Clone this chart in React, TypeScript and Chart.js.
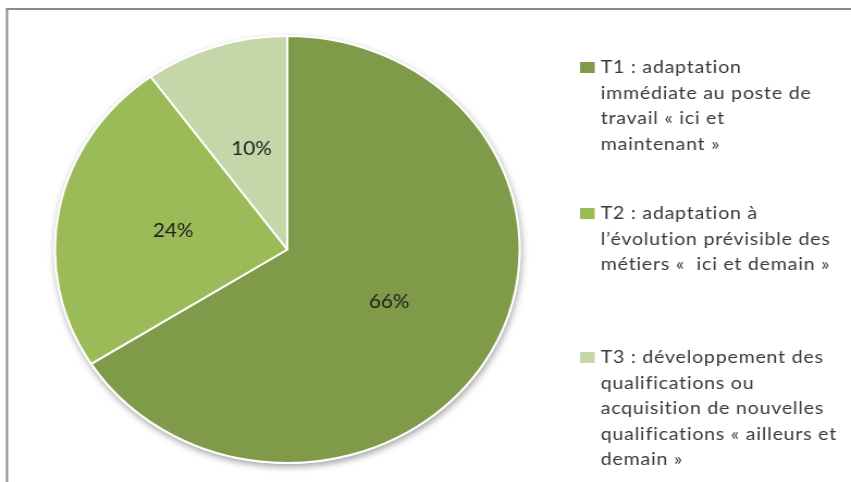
import React, { useEffect, useRef } from "react";
import { Chart, registerables } from "chart.js";

Chart.register(...registerables);

// ---- data ----
const CATEGORIES: string[][] = [
  ["T1 : adaptation", "immédiate au poste de", "travail « ici et", "maintenant »"],
  ["T2 : adaptation à", "l’évolution prévisible des", "métiers «  ici et demain »"],
  ["T3 : développement des", "qualifications ou", "acquisition de nouvelles", "qualifications « ailleurs et", "demain »"],
];
const VALUES: number[] = [66, 24, 10];
const COLORS: string[] = ["#7F9A48", "#9BBB59", "#C5D6A8"];

// ---- layout ----
const OUT_W = 851;
const OUT_H = 482;
const STRETCH = 1.088; // the reference is stretched horizontally
const CANVAS_W = Math.round(OUT_W / STRETCH);
const CANVAS_H = OUT_H;
const LEGEND_BOX_X = 533;
const LEGEND_TEXT_X = 552;
const LEGEND_BASELINES = [73, 219, 363];
const LEGEND_LINE_H = 25.5;
const FONT = "Lato, 'Open Sans', sans-serif";

const framePlugin = {
  id: "frame",
  beforeDraw(chart: any) {
    const ctx = chart.ctx;
    ctx.save();
    ctx.fillStyle = "#ffffff";
    ctx.fillRect(0, 0, chart.width, chart.height);
    ctx.strokeStyle = "#8a8a8a";
    ctx.lineWidth = 2;
    ctx.strokeRect(6.4, 9, chart.width + 20, chart.height + 20);
    ctx.restore();
  },
};

const shadowPlugin = {
  id: "pieShadow",
  beforeDatasetsDraw(chart: any) {
    const arc = chart.getDatasetMeta(0).data[0];
    if (!arc) return;
    const { x, y, outerRadius } = arc.getProps(["x", "y", "outerRadius"], true);
    const ctx = chart.ctx;
    ctx.save();
    ctx.shadowColor = "rgba(0,0,0,0.35)";
    ctx.shadowBlur = 6;
    ctx.shadowOffsetX = 1;
    ctx.shadowOffsetY = 3;
    ctx.fillStyle = "#ffffff";
    ctx.beginPath();
    ctx.arc(x, y, outerRadius + 1, 0, Math.PI * 2);
    ctx.fill();
    ctx.restore();
  },
};

const valueLabelPlugin = {
  id: "valueLabels",
  afterDatasetsDraw(chart: any) {
    const ctx = chart.ctx;
    const meta = chart.getDatasetMeta(0);
    const data = chart.data.datasets[0].data as number[];
    ctx.save();
    ctx.font = `19px ${FONT}`;
    ctx.fillStyle = "#1f1f1f";
    ctx.textAlign = "center";
    ctx.textBaseline = "middle";
    meta.data.forEach((arc: any, i: number) => {
      const p = arc.getCenterPoint();
      ctx.fillText(`${data[i]}%`, p.x, p.y + 1);
    });
    ctx.restore();
  },
};

const legendPlugin = {
  id: "sideLegend",
  afterDraw(chart: any) {
    const ctx = chart.ctx;
    const labels = chart.data.labels as string[][];
    const colors = chart.data.datasets[0].backgroundColor as string[];
    ctx.save();
    ctx.font = `18px ${FONT}`;
    (ctx as any).letterSpacing = "0.7px";
    ctx.textAlign = "left";
    ctx.textBaseline = "alphabetic";
    labels.forEach((lines, i) => {
      const base = LEGEND_BASELINES[i];
      ctx.fillStyle = colors[i];
      ctx.fillRect(LEGEND_BOX_X, base - 11, 13.5, 11);
      ctx.fillStyle = "#3a3a3a";
      lines.forEach((line, k) => {
        ctx.fillText(line, LEGEND_TEXT_X, base + k * LEGEND_LINE_H);
      });
    });
    ctx.restore();
  },
};

export default function App() {
  const ref = useRef<HTMLCanvasElement | null>(null);

  useEffect(() => {
    if (!ref.current) return;
    const chart = new Chart(ref.current, {
      type: "pie",
      data: {
        labels: CATEGORIES as any,
        datasets: [
          {
            data: VALUES,
            backgroundColor: COLORS,
            borderColor: "#ffffff",
            borderWidth: 2,
          },
        ],
      },
      options: {
        responsive: false,
        animation: false,
        devicePixelRatio: 1,
        layout: {
          padding: { top: 35, bottom: 18, left: 49.5, right: CANVAS_W - 49.5 - 429 },
        },
        plugins: {
          legend: { display: false },
          tooltip: { enabled: false },
        },
      },
      plugins: [framePlugin, shadowPlugin, valueLabelPlugin, legendPlugin],
    });
    return () => chart.destroy();
  }, []);

  return (
    <div
      style={{
        position: "fixed",
        left: 0,
        top: 0,
        width: OUT_W,
        height: OUT_H,
        overflow: "hidden",
        background: "#fff",
      }}
    >
      <div style={{ transform: `scaleX(${OUT_W / CANVAS_W})`, transformOrigin: "0 0", width: CANVAS_W, height: CANVAS_H }}>
        <canvas
          ref={ref}
          width={CANVAS_W}
          height={CANVAS_H}
          style={{ width: CANVAS_W, height: CANVAS_H, display: "block" }}
        />
      </div>
    </div>
  );
}
